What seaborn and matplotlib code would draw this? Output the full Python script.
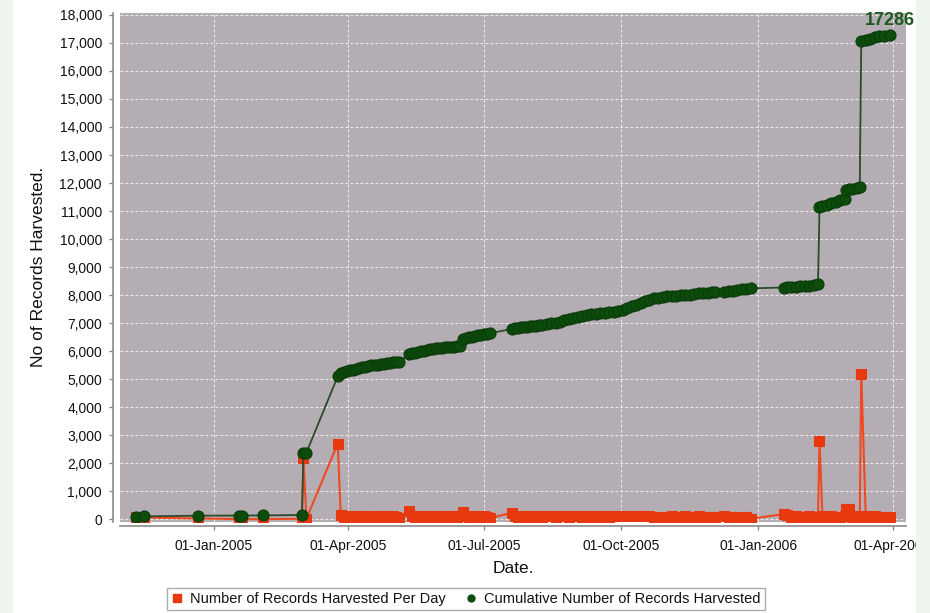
import matplotlib
matplotlib.use('Agg')
import matplotlib.pyplot as plt
import matplotlib.dates as mdates
from matplotlib.lines import Line2D
from matplotlib.patches import Rectangle
from matplotlib.ticker import MultipleLocator, FuncFormatter
import seaborn as sns
import pandas as pd

# ---------------- data ----------------
dates = [
    "2004-11-10", "2004-11-15", "2004-12-21", "2005-01-18", "2005-01-20", "2005-02-03",
    "2005-03-01", "2005-03-02", "2005-03-04", "2005-03-25", "2005-03-27", "2005-03-29",
    "2005-03-31", "2005-04-02", "2005-04-04", "2005-04-06", "2005-04-08", "2005-04-10",
    "2005-04-12", "2005-04-14", "2005-04-16", "2005-04-19", "2005-04-21", "2005-04-23",
    "2005-04-25", "2005-04-27", "2005-04-29", "2005-05-01", "2005-05-03", "2005-05-05",
    "2005-05-12", "2005-05-14", "2005-05-16", "2005-05-18", "2005-05-20", "2005-05-22",
    "2005-05-24", "2005-05-26", "2005-05-28", "2005-05-30", "2005-06-01", "2005-06-03",
    "2005-06-05", "2005-06-07", "2005-06-09", "2005-06-11", "2005-06-13", "2005-06-15",
    "2005-06-17", "2005-06-19", "2005-06-21", "2005-06-23", "2005-06-25", "2005-06-27",
    "2005-06-29", "2005-07-01", "2005-07-03", "2005-07-05", "2005-07-20", "2005-07-22",
    "2005-07-24", "2005-07-26", "2005-07-28", "2005-07-30", "2005-08-01", "2005-08-03",
    "2005-08-05", "2005-08-07", "2005-08-09", "2005-08-12", "2005-08-15", "2005-08-18",
    "2005-08-21", "2005-08-24", "2005-08-27", "2005-08-30", "2005-09-02", "2005-09-05",
    "2005-09-08", "2005-09-11", "2005-09-14", "2005-09-17", "2005-09-20", "2005-09-23",
    "2005-09-26", "2005-09-29", "2005-10-02", "2005-10-05", "2005-10-08", "2005-10-11",
    "2005-10-14", "2005-10-17", "2005-10-20", "2005-10-23", "2005-10-26", "2005-10-29",
    "2005-11-01", "2005-11-04", "2005-11-07", "2005-11-10", "2005-11-13", "2005-11-16",
    "2005-11-19", "2005-11-22", "2005-11-25", "2005-11-28", "2005-12-01", "2005-12-03",
    "2005-12-09", "2005-12-12", "2005-12-15", "2005-12-18", "2005-12-21", "2005-12-24",
    "2005-12-27", "2006-01-18", "2006-01-20", "2006-01-23", "2006-01-26", "2006-01-29",
    "2006-02-01", "2006-02-04", "2006-02-07", "2006-02-10", "2006-02-11", "2006-02-13",
    "2006-02-16", "2006-02-19", "2006-02-22", "2006-02-25", "2006-02-28", "2006-03-01",
    "2006-03-03", "2006-03-05", "2006-03-08", "2006-03-10", "2006-03-11", "2006-03-14",
    "2006-03-17", "2006-03-20", "2006-03-23", "2006-03-26", "2006-03-30",
]

per_day = [
    90, 60, 25, 5, 2, 3,
    15, 2180, 20, 2700, 140, 90,
    120, 80, 110, 130, 90, 100,
    120, 80, 60, 100, 90, 110,
    80, 120, 90, 100, 80, 30,
    300, 110, 90, 100, 120, 80,
    100, 90, 110, 100, 80, 100,
    90, 110, 80, 100, 90, 120,
    240, 110, 90, 100, 80, 100,
    90, 110, 80, 40, 230, 110,
    90, 100, 80, 100, 90, 110,
    80, 100, 90, 100, 110, 90,
    100, 120, 90, 100, 110, 90,
    100, 80, 100, 90, 100, 80,
    100, 110, 120, 100, 110, 120,
    100, 110, 100, 90, 80, 90,
    80, 100, 80, 90, 100, 80,
    90, 100, 80, 90, 80, 90,
    100, 80, 90, 80, 90, 80,
    20, 180, 150, 90, 100, 80,
    90, 100, 80, 90, 2800, 100,
    90, 100, 80, 90, 100, 380,
    350, 90, 100, 80, 5200, 100,
    90, 100, 80, 90, 80,
]

cumulative = [
    95, 100, 125, 130, 132, 135,
    150, 2360, 2380, 5100, 5230, 5260,
    5290, 5310, 5340, 5370, 5400, 5420,
    5450, 5480, 5500, 5510, 5520, 5540,
    5550, 5570, 5580, 5600, 5610, 5620,
    5890, 5920, 5950, 5970, 6000, 6020,
    6040, 6060, 6080, 6100, 6110, 6120,
    6130, 6140, 6150, 6160, 6170, 6200,
    6430, 6460, 6490, 6520, 6540, 6560,
    6580, 6600, 6620, 6640, 6790, 6810,
    6830, 6850, 6860, 6870, 6880, 6900,
    6910, 6930, 6940, 6960, 6990, 7020,
    7050, 7100, 7150, 7190, 7230, 7270,
    7290, 7320, 7340, 7360, 7370, 7380,
    7390, 7420, 7480, 7540, 7600, 7660,
    7720, 7780, 7840, 7880, 7910, 7930,
    7950, 7970, 7980, 7990, 8000, 8020,
    8040, 8060, 8080, 8090, 8100, 8110,
    8120, 8140, 8160, 8180, 8200, 8220,
    8240, 8270, 8280, 8290, 8300, 8320,
    8330, 8340, 8360, 8380, 11140, 11180,
    11230, 11280, 11330, 11380, 11420, 11750,
    11770, 11800, 11830, 11860, 17060, 17100,
    17150, 17200, 17240, 17260, 17286,
]

series_labels = ["Number of Records Harvested Per Day", "Cumulative Number of Records Harvested"]
x_title = "Date."
y_title = "No of Records Harvested."

# ---------------- style ----------------
sns.set_theme(style="white")
plt.rcParams['font.family'] = ['Liberation Sans', 'DejaVu Sans']

RED_LINE = "#ee4a22"
RED_MARK = "#e8380e"
GREEN_LINE = "#2c4a2c"
GREEN_MARK = "#0c4d0c"
PLOT_BG = "#b4adb3"
AXIS_GRAY = "#8a8a8a"
TEXT = "#111111"

df = pd.DataFrame({
    "date": pd.to_datetime(dates),
    "per_day": per_day,
    "cumulative": cumulative,
})

fig = plt.figure(figsize=(9.3, 6.13), dpi=100)
fig.patch.set_facecolor("white")
ax = fig.add_axes([120 / 930, 1 - 522 / 613, (906 - 120) / 930, (522 - 12.7) / 613])
ax.set_facecolor(PLOT_BG)

sns.lineplot(data=df, x="date", y="per_day", ax=ax, color=RED_LINE, linewidth=1.5,
             marker="s", markersize=6.5, markerfacecolor=RED_MARK, markeredgecolor=RED_MARK,
             zorder=3, legend=False)
sns.lineplot(data=df, x="date", y="cumulative", ax=ax, color=GREEN_LINE, linewidth=1.3,
             marker="o", markersize=8, markerfacecolor=GREEN_MARK, markeredgecolor="#0a3a0a",
             zorder=4, legend=False)

# annotation of last value
last_date = df["date"].iloc[-1]
last_val = df["cumulative"].iloc[-1]
ax.annotate(f"{last_val}", xy=(last_date, last_val), xytext=(0, 4), textcoords="offset points",
            ha="center", va="bottom", fontsize=13, fontweight="bold", color="#1d5a1d",
            annotation_clip=False)

# axes limits & ticks
ax.set_xlim(pd.Timestamp("2004-10-30"), pd.Timestamp("2006-04-10"))
ax.set_ylim(-100, 18080)
ax.yaxis.set_major_locator(MultipleLocator(1000))
ax.yaxis.set_major_formatter(FuncFormatter(lambda v, p: f"{v:,.0f}"))
ax.xaxis.set_major_locator(mdates.MonthLocator(bymonth=[1, 4, 7, 10]))
ax.xaxis.set_major_formatter(mdates.DateFormatter("%d-%b-%Y"))

ax.grid(True, color="white", linestyle=(0, (2.5, 2)), linewidth=0.8, alpha=0.75)
ax.set_axisbelow(True)

for s in ["top", "right"]:
    ax.spines[s].set_visible(False)
ax.spines["left"].set_position(("outward", 5))
ax.spines["bottom"].set_position(("outward", 3))
for s in ["left", "bottom"]:
    ax.spines[s].set_color(AXIS_GRAY)
    ax.spines[s].set_linewidth(1.2)

ax.tick_params(axis="both", which="major", bottom=True, left=True, direction="out",
               length=3, width=1, color=AXIS_GRAY, labelsize=10, labelcolor=TEXT)
ax.tick_params(axis="y", pad=5)
ax.tick_params(axis="x", pad=6)

ax.set_xlabel(x_title, fontsize=12.5, labelpad=6, color=TEXT)
ax.set_ylabel(y_title, fontsize=12.5, labelpad=10, color=TEXT)

# legend
handles = [
    Line2D([], [], linestyle="none", marker="s", markersize=6,
           markerfacecolor=RED_MARK, markeredgecolor=RED_MARK),
    Line2D([], [], linestyle="none", marker="o", markersize=5,
           markerfacecolor=GREEN_MARK, markeredgecolor=GREEN_MARK),
]
leg = fig.legend(handles, series_labels, loc="center", bbox_to_anchor=(466 / 930, 1 - 599 / 613),
                 ncol=2, frameon=True, fancybox=False, fontsize=10.5, handlelength=0.8,
                 handletextpad=0.5, columnspacing=1.3, borderpad=0.3, borderaxespad=0,
                 labelcolor=TEXT)
leg.get_frame().set_edgecolor("#999999")
leg.get_frame().set_linewidth(1.0)

# side strips of the screenshot
fig.patches.append(Rectangle((0, 0), 13 / 930, 1, transform=fig.transFigure,
                             facecolor="#eef5ee", edgecolor="none", zorder=10))
fig.patches.append(Rectangle((916 / 930, 0), 14 / 930, 1, transform=fig.transFigure,
                             facecolor="#eef5ee", edgecolor="none", zorder=10))

fig.savefig("out.png", dpi=100, facecolor=fig.get_facecolor())
